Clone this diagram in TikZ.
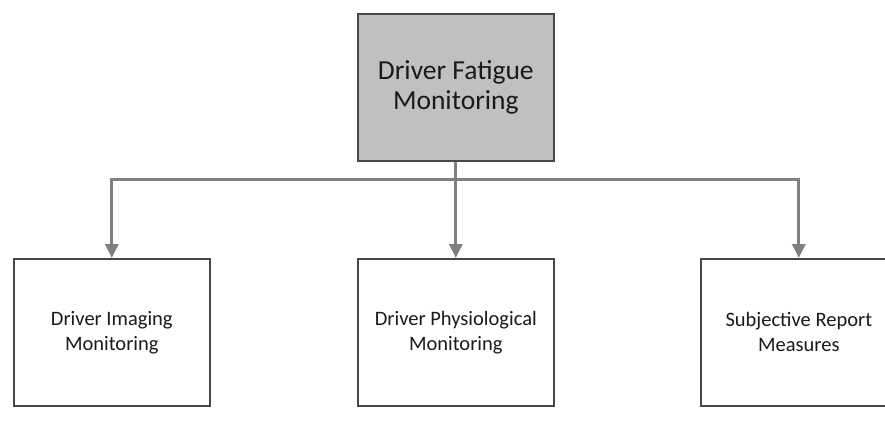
\documentclass[tikz,border=0pt]{standalone}
\usepackage{fontspec}
\setmainfont{Carlito}
\usetikzlibrary{arrows.meta}
\definecolor{boxline}{HTML}{474747}
\definecolor{topfill}{HTML}{C0C0C0}
\definecolor{linkgray}{HTML}{7F7F7F}
\definecolor{txt}{HTML}{1A1A1A}
\begin{document}
\begin{tikzpicture}[x=1pt,y=-1pt,
  box/.style={draw=boxline,line width=1.6pt,minimum width=196pt,minimum height=147pt,
    anchor=north west,inner sep=0pt,align=center,text=txt},
  topbox/.style={box,fill=topfill,font=\fontsize{27.5}{30}\selectfont},
  subbox/.style={box,fill=white,font=\fontsize{20.5}{25}\selectfont},
  link/.style={draw=linkgray,line width=3pt},
  arrowlink/.style={link,-{Triangle[length=14pt,width=13pt]}}]
\useasboundingbox (0,0) rectangle (885,440);
\clip (0,0) rectangle (885,440);
\node[topbox] (root) at (357,13) {Driver Fatigue\\Monitoring};
\node[subbox] (imaging) at (13,258) {Driver Imaging\\Monitoring};
\node[subbox] (physio) at (357,258) {Driver Physiological\\Monitoring};
\node[subbox] (subjective) at (700,258) {Subjective Report\\Measures};
% horizontal distribution bar just below the root box
\path (root.south) ++(0,18) coordinate (bus);
\draw[link] (root.south) -- (bus);
\draw[link,line cap=rect] (imaging.north |- bus) -- (subjective.north |- bus);
\draw[arrowlink] (imaging.north |- bus) -- (imaging.north);
\draw[arrowlink] (bus) -- (bus |- physio.north);
\draw[arrowlink] (subjective.north |- bus) -- (subjective.north);
\end{tikzpicture}
\end{document}
